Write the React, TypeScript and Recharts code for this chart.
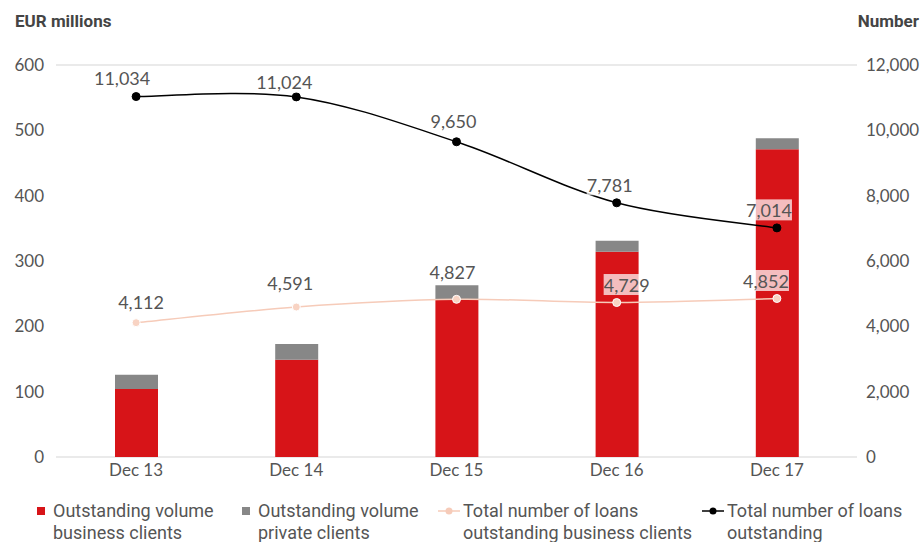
import React from "react";
import {
  ComposedChart, Bar, Line, XAxis, YAxis, CartesianGrid, LabelList,
} from "recharts";

const periods = ["Dec 13", "Dec 14", "Dec 15", "Dec 16", "Dec 17"];
const volumeBusiness = [104, 149, 242, 314, 471];
const volumePrivate = [22, 24, 21, 17, 17];
const loansBusiness = [4112, 4591, 4827, 4729, 4852];
const loansTotal = [11034, 11024, 9650, 7781, 7014];

const leftTicks = [0, 100, 200, 300, 400, 500, 600];
const rightTicks = [0, 2000, 4000, 6000, 8000, 10000, 12000];

const legendItems = [
  { key: "vb", label: ["Outstanding volume", "business clients"], kind: "square", color: "#d71418" },
  { key: "vp", label: ["Outstanding volume", "private clients"], kind: "square", color: "#878787" },
  { key: "lb", label: ["Total number of loans", "outstanding business clients"], kind: "line", color: "#f6cbb9" },
  { key: "lt", label: ["Total number of loans", "outstanding"], kind: "line", color: "#000" },
];

// hand-placed label nudges (dx, dy above the point), as in the original
const labelNudgeBusiness = [[5, 21], [-6, 24], [-4, 27], [10, 18], [-11, 18]];
const labelNudgeTotal = [[-14, 19], [-12, 15], [-3, 21], [-7, 18], [-8, 18]];

const data = periods.map((p, i) => ({
  period: p,
  business: volumeBusiness[i],
  priv: volumePrivate[i],
  loansBusiness: loansBusiness[i],
  loansTotal: loansTotal[i],
}));

const W = 924;
const H = 542;
const PLOT_TOP = 65;
const PLOT_BOTTOM = 457;

const NUM_FONT = "Lato, 'Open Sans', sans-serif";
const TEXT_FONT = "'Liberation Sans Narrow', 'Roboto', sans-serif";
const GREY_TEXT = "#555";

const fmt = (v: number) => v.toLocaleString("en-US");

// smooth line through the points, like the spreadsheet's "smoothed line"
const smoothCurve = (ctx: any) => {
  let pts: [number, number][] = [];
  return {
    areaStart() {},
    areaEnd() {},
    lineStart() { pts = []; },
    point(x: number, y: number) { pts.push([+x, +y]); },
    lineEnd() {
      if (!pts.length) return;
      ctx.moveTo(pts[0][0], pts[0][1]);
      const k = 1 / 6;
      for (let i = 0; i < pts.length - 1; i++) {
        const p0 = pts[Math.max(i - 1, 0)];
        const p1 = pts[i];
        const p2 = pts[i + 1];
        const p3 = pts[Math.min(i + 2, pts.length - 1)];
        ctx.bezierCurveTo(
          p1[0] + k * (p2[0] - p0[0]), p1[1] + k * (p2[1] - p0[1]),
          p2[0] - k * (p3[0] - p1[0]), p2[1] - k * (p3[1] - p1[1]),
          p2[0], p2[1],
        );
      }
    },
  };
};

// labels carry a translucent white box; it only shows where it sits on a bar
const makeLabel = (nudges: number[][]) => (props: any) => {
  const { x, y, value, index } = props;
  if (x == null || y == null) return null;
  const [dx, dy] = nudges[index] || [0, 20];
  const cx = x + dx;
  const cy = y - dy;
  const s = fmt(value);
  const digits = s.replace(/,/g, "").length;
  const w = digits * 9.4 + (s.length - digits) * 4.5 + 4;
  return (
    <g>
      <rect x={cx - w / 2} y={cy - 10.5} width={w} height={21} fill="#fff" fillOpacity={0.72} />
      <text x={cx} y={cy} textAnchor="middle" dominantBaseline="central"
        fontFamily={NUM_FONT} fontSize={18} fill={GREY_TEXT}>
        {s}
      </text>
    </g>
  );
};

const Legend = () => {
  const xs = [37, 242, 438, 702];
  return (
    <>
      {legendItems.map((it, i) => (
        <div key={it.key} style={{ position: "absolute", left: xs[i], top: 500, display: "flex", alignItems: "flex-start" }}>
          {it.kind === "square" ? (
            <div style={{ width: 8, height: 8, background: it.color, marginTop: 7, marginRight: 8 }} />
          ) : (
            <svg width={23} height={22} style={{ marginRight: 2 }}>
              <line x1={0} x2={22} y1={11} y2={11} stroke={it.color} strokeWidth={1.5} />
              <circle cx={11} cy={11} r={3.5} fill={it.color} />
            </svg>
          )}
          <div style={{ fontFamily: TEXT_FONT, fontSize: 18, lineHeight: "22px", color: GREY_TEXT }}>
            {it.label[0]}<br />{it.label[1]}
          </div>
        </div>
      ))}
    </>
  );
};

export default function App() {
  return (
    <div style={{ position: "absolute", left: 0, top: 0, width: W, height: H, background: "#fff", overflow: "hidden" }}>
      <div style={{ position: "absolute", left: 15, top: 11, fontFamily: TEXT_FONT, fontWeight: 700, fontSize: 17, color: "#444" }}>
        EUR millions
      </div>
      <div style={{ position: "absolute", right: 5, top: 11, fontFamily: TEXT_FONT, fontWeight: 700, fontSize: 17, color: "#444" }}>
        Number
      </div>
      <ComposedChart width={W} height={H} data={data}
        margin={{ top: PLOT_TOP, right: 0, left: 0, bottom: H - PLOT_BOTTOM - 30 }}>
        <CartesianGrid vertical={false} stroke="#e3e3e3" strokeWidth={1.5} />
        <XAxis dataKey="period" axisLine={false} tickLine={false} height={30} tickMargin={1}
          tick={{ fontFamily: NUM_FONT, fontSize: 17, fill: GREY_TEXT }} />
        <YAxis yAxisId="left" orientation="left" domain={[0, 600]} ticks={leftTicks} width={56}
          axisLine={false} tickLine={false} tickMargin={6}
          tick={{ fontFamily: NUM_FONT, fontSize: 17, fill: GREY_TEXT }} />
        <YAxis yAxisId="right" orientation="right" domain={[0, 12000]} ticks={rightTicks} width={67}
          axisLine={false} tickLine={false} tickMargin={3} tickFormatter={fmt}
          tick={{ fontFamily: NUM_FONT, fontSize: 17, fill: GREY_TEXT }} />
        <Bar yAxisId="left" dataKey="business" stackId="v" fill="#d71418" barSize={43} isAnimationActive={false} />
        <Bar yAxisId="left" dataKey="priv" stackId="v" fill="#878787" barSize={43} isAnimationActive={false} />
        <Line yAxisId="right" dataKey="loansBusiness" type={smoothCurve as any} stroke="#f6cbb9" strokeWidth={1.5}
          dot={{ r: 4, fill: "#f8d3c3", stroke: "#fff", strokeWidth: 1 }} isAnimationActive={false}>
          <LabelList dataKey="loansBusiness" content={makeLabel(labelNudgeBusiness)} />
        </Line>
        <Line yAxisId="right" dataKey="loansTotal" type={smoothCurve as any} stroke="#000" strokeWidth={1.5}
          dot={{ r: 4, fill: "#000", stroke: "#000", strokeWidth: 1 }} isAnimationActive={false}>
          <LabelList dataKey="loansTotal" content={makeLabel(labelNudgeTotal)} />
        </Line>
      </ComposedChart>
      <Legend />
    </div>
  );
}
